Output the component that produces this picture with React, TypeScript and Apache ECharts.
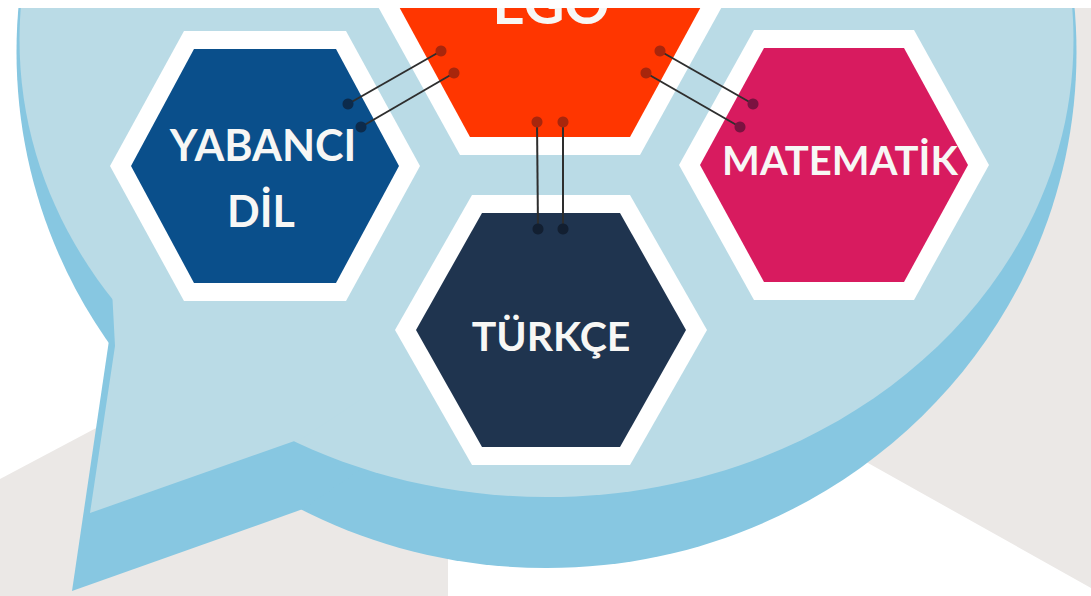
import React, { useEffect, useRef } from "react";
import * as echarts from "echarts";

// ---- content ----
const labels = ["EGO", "YABANCI", "DİL", "MATEMATİK", "TÜRKÇE"];
const hexNames = ["EGO", "YABANCI DİL", "MATEMATİK", "TÜRKÇE"];
const hexColors = ["#ff3600", "#0a4f8b", "#d81b5f", "#1f344f"];
const dotColors = ["#a8260c", "#0c2b4c", "#7a1240", "#121f31"];

const W = 1091;
const H = 596;

type Hex = { cx: number; cy: number; R: number; t: number; h: number };

const hexPoints = (g: Hex) => [
  [g.cx - g.R, g.cy],
  [g.cx - g.t, g.cy - g.h],
  [g.cx + g.t, g.cy - g.h],
  [g.cx + g.R, g.cy],
  [g.cx + g.t, g.cy + g.h],
  [g.cx - g.t, g.cy + g.h],
];

// layout of hexagons (inner) and their white frames
const innerHex: Hex[] = [
  { cx: 550, cy: 3, R: 153, t: 80, h: 134 },
  { cx: 265, cy: 166, R: 134, t: 71, h: 117 },
  { cx: 834, cy: 165, R: 134, t: 70, h: 117 },
  { cx: 551, cy: 330, R: 135, t: 69, h: 117 },
];
const outerHex: Hex[] = innerHex.map((g) => ({
  cx: g.cx,
  cy: g.cy,
  R: g.R + 21,
  t: g.t + 10,
  h: g.h + 18,
}));

// connectors: [from hex idx, to hex idx, x1, y1, x2, y2]
const connectors = [
  [0, 1, 441, 51, 348, 104],
  [0, 1, 454, 73, 361, 127],
  [0, 2, 660, 51, 753, 104],
  [0, 2, 646, 73, 740, 127],
  [0, 3, 537, 122, 538, 229],
  [0, 3, 563, 122, 563, 229],
];

export default function App() {
  const ref = useRef<HTMLDivElement>(null);
  useEffect(() => {
    if (!ref.current) return;
    const chart = echarts.init(ref.current, undefined, { renderer: "svg" });
    const els: any[] = [];
    let z = 0;
    const add = (e: any) => {
      e.z = z++;
      els.push(e);
    };
    // background
    add({ type: "rect", shape: { x: 0, y: 0, width: W, height: H }, style: { fill: "#ffffff" } });
    // gray backdrop shapes
    add({
      type: "polygon",
      shape: { points: [[0, 479], [300, 320], [448, 400], [448, H], [0, H]] },
      style: { fill: "#ebe8e6" },
    });
    add({
      type: "polygon",
      shape: { points: [[700, 0], [W, 0], [W, 588], [868, 463], [700, 369]] },
      style: { fill: "#ebe8e6" },
    });
    // bubble: darker shadow
    add({ type: "ellipse", shape: { cx: 546.5, cy: 52, rx: 530, ry: 516 }, style: { fill: "#87c7e1" } });
    add({
      type: "polygon",
      shape: { points: [[112, 320], [72, 591], [303, 509], [360, 470], [300, 330]] },
      style: { fill: "#87c7e1" },
    });
    // bubble: light
    add({ type: "ellipse", shape: { cx: 546.5, cy: 40, rx: 527, ry: 457 }, style: { fill: "#badbe6" } });
    add({
      type: "polygon",
      shape: { points: [[112, 290], [115, 346], [90, 513], [303, 438], [360, 400], [250, 290]] },
      style: { fill: "#badbe6" },
    });
    // hexagons
    outerHex.forEach((g) =>
      add({ type: "polygon", shape: { points: hexPoints(g) }, style: { fill: "#ffffff" } })
    );
    innerHex.forEach((g, i) =>
      add({ type: "polygon", name: hexNames[i], shape: { points: hexPoints(g) }, style: { fill: hexColors[i] } })
    );
    // labels
    const txt = (text: string, x: number, y: number, size: number) =>
      add({
        type: "text",
        x,
        y,
        style: {
          text,
          fill: "#f7f7f5",
          fontFamily: "Lato",
          fontWeight: "bold",
          fontSize: size,
          align: "center",
          verticalAlign: "middle",
        },
      });
    txt(labels[0], 551, 2, 56);
    txt(labels[1], 263, 144, 43);
    txt(labels[2], 261, 210, 43);
    txt(labels[3], 840, 160, 40);
    txt(labels[4], 551, 335, 41);
    // connectors
    connectors.forEach((c) =>
      add({
        type: "line",
        shape: { x1: c[2], y1: c[3], x2: c[4], y2: c[5] },
        style: { stroke: "#2e2e2e", lineWidth: 2 },
      })
    );
    connectors.forEach((c) => {
      add({ type: "circle", shape: { cx: c[2], cy: c[3], r: 5.5 }, style: { fill: dotColors[c[0]] } });
      add({ type: "circle", shape: { cx: c[4], cy: c[5], r: 5.5 }, style: { fill: dotColors[c[1]] } });
    });
    // top white band
    add({ type: "rect", shape: { x: 0, y: 0, width: W, height: 8 }, style: { fill: "#ffffff" } });

    chart.setOption({ animation: false, graphic: { elements: els } });
    return () => chart.dispose();
  }, []);
  return (
    <div
      ref={ref}
      style={{ position: "absolute", left: 0, top: 0, width: W, height: H }}
    />
  );
}
